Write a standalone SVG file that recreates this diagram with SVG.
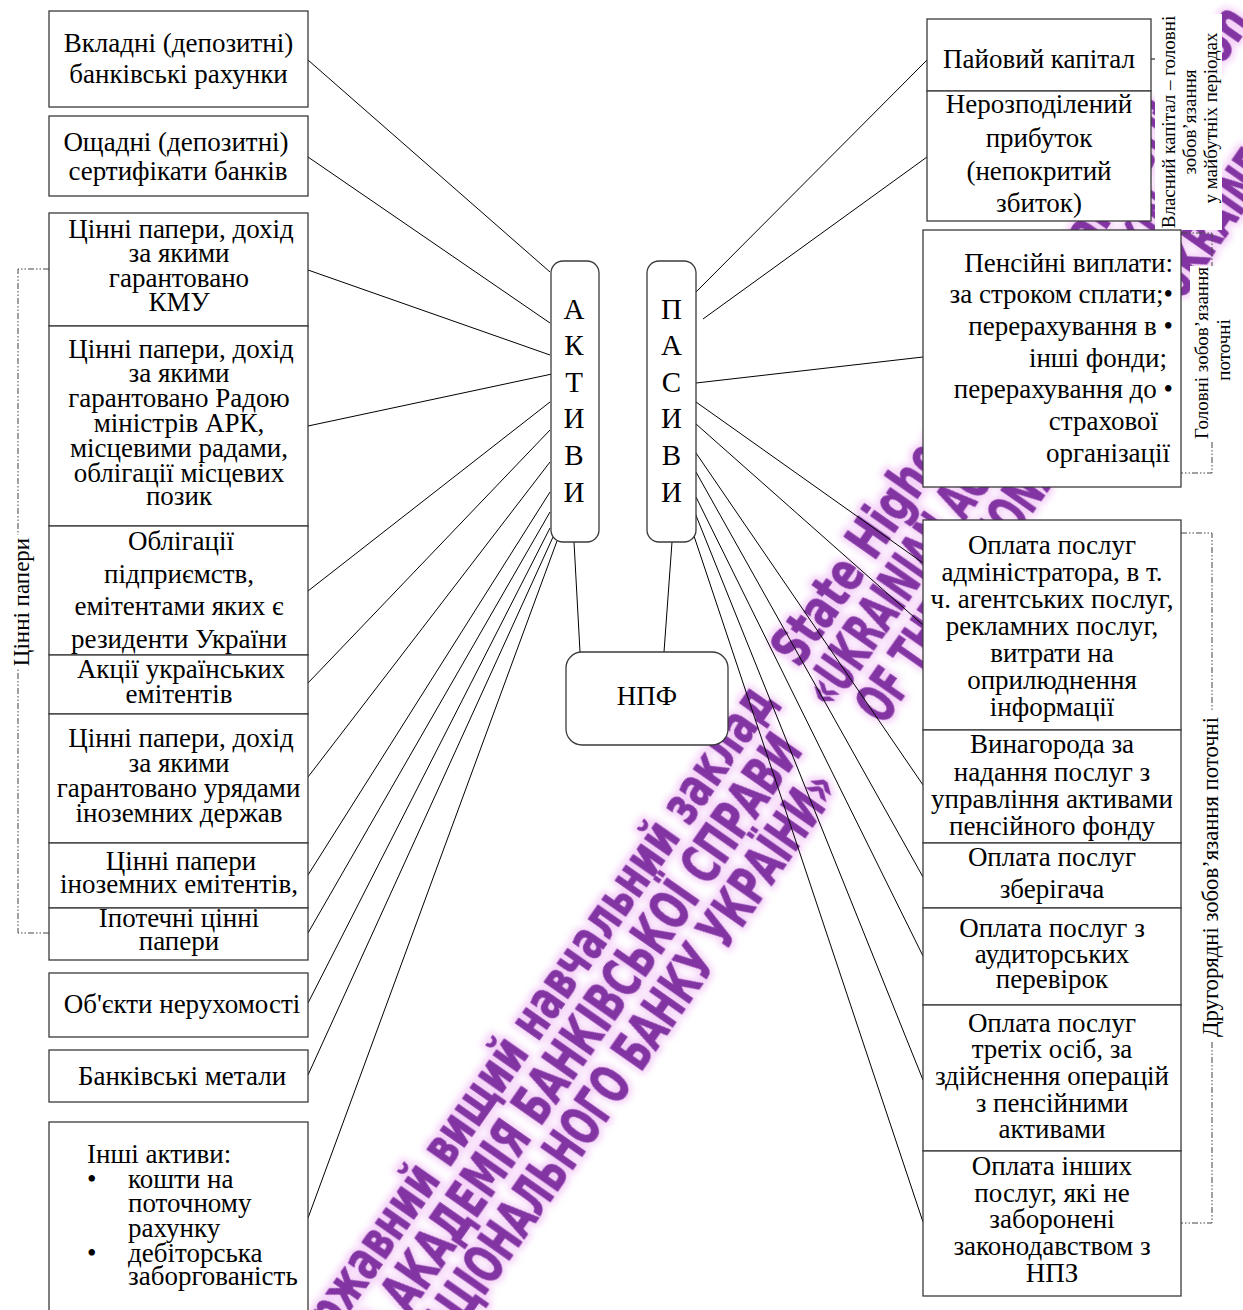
<svg xmlns="http://www.w3.org/2000/svg" width="1243" height="1310" viewBox="0 0 1243 1310">
  <style>
    .box { fill: #ffffff; stroke: #3a3a3a; stroke-width: 1.3; }
    .t { font-family: 'Liberation Serif', 'Times New Roman', serif; font-size: 27px; fill: #000; text-anchor: middle; }
    .l { text-anchor: start; }
    .r { text-anchor: end; }
    .v { font-family: 'Liberation Serif', 'Times New Roman', serif; font-size: 19px; fill: #000; text-anchor: middle; }
    .big { font-size: 29px; }
    .conn line { stroke: #000; stroke-width: 1; }
    .brk { fill: none; stroke: #444; stroke-width: 1; stroke-dasharray: 6 2 1.5 2 1.5 2; }
    .wm { font-family: 'DejaVu Sans Condensed', 'DejaVu Sans', sans-serif; font-weight: bold; font-stretch: condensed; font-size: 54px; }
    .wm-halo { fill: #f3c8f7; stroke: #f3c8f7; stroke-width: 9; stroke-linejoin: round; opacity: 0.8; }
    .wm-ink { fill: #8234a2; stroke: #8234a2; stroke-width: 0.8; stroke-linejoin: round; }
  </style>
  <defs>
    <filter id="halo" x="-10%" y="-50%" width="120%" height="200%"><feGaussianBlur stdDeviation="3"/></filter>
    <filter id="soft" x="-10%" y="-50%" width="120%" height="200%"><feGaussianBlur stdDeviation="0.6"/></filter>
  </defs>

  <rect width="1243" height="1310" fill="#ffffff"/>

  <!-- background stamp, rotated text -->
  <g id="stamp" class="wm" transform="rotate(-55)">
    <g class="wm-halo" filter="url(#halo)">
      <text x="-959" y="1038" textLength="830" lengthAdjust="spacingAndGlyphs">Державний вищий навчальний заклад</text>
      <text x="-90" y="1038" textLength="790" lengthAdjust="spacingAndGlyphs">State Higher Educational Institution</text>
      <text x="-1142" y="1089" textLength="988" lengthAdjust="spacingAndGlyphs">«УКРАЇНСЬКА АКАДЕМІЯ БАНКІВСЬКОЇ СПРАВИ</text>
      <text x="-105" y="1089" textLength="638" lengthAdjust="spacingAndGlyphs">«UKRAINIAN ACADEMY OF BANKING</text>
      <text x="-873" y="1140" textLength="709" lengthAdjust="spacingAndGlyphs">НАЦІОНАЛЬНОГО БАНКУ УКРАЇНИ»</text>
      <text x="-88" y="1140" textLength="704" lengthAdjust="spacingAndGlyphs">OF THE NATIONAL BANK OF UKRAINE»</text>
    </g>
    <g class="wm-ink" filter="url(#soft)">
      <text x="-959" y="1038" textLength="830" lengthAdjust="spacingAndGlyphs">Державний вищий навчальний заклад</text>
      <text x="-90" y="1038" textLength="790" lengthAdjust="spacingAndGlyphs">State Higher Educational Institution</text>
      <text x="-1142" y="1089" textLength="988" lengthAdjust="spacingAndGlyphs">«УКРАЇНСЬКА АКАДЕМІЯ БАНКІВСЬКОЇ СПРАВИ</text>
      <text x="-105" y="1089" textLength="638" lengthAdjust="spacingAndGlyphs">«UKRAINIAN ACADEMY OF BANKING</text>
      <text x="-873" y="1140" textLength="709" lengthAdjust="spacingAndGlyphs">НАЦІОНАЛЬНОГО БАНКУ УКРАЇНИ»</text>
      <text x="-88" y="1140" textLength="704" lengthAdjust="spacingAndGlyphs">OF THE NATIONAL BANK OF UKRAINE»</text>
    </g>
  </g>

  <!-- connectors -->
  <g id="connectors" class="conn">
    <!-- assets to АКТИВИ -->
    <line x1="308" y1="60" x2="550" y2="272"/>
    <line x1="308" y1="157" x2="550" y2="323"/>
    <line x1="308" y1="270" x2="550" y2="355"/>
    <line x1="308" y1="426" x2="552" y2="374"/>
    <line x1="308" y1="591" x2="550" y2="402"/>
    <line x1="308" y1="683" x2="550" y2="430"/>
    <line x1="308" y1="777" x2="550" y2="462"/>
    <line x1="308" y1="875" x2="550" y2="492"/>
    <line x1="308" y1="933" x2="550" y2="512"/>
    <line x1="308" y1="1003" x2="550" y2="528"/>
    <line x1="308" y1="1075" x2="553" y2="537"/>
    <line x1="308" y1="1218" x2="557" y2="541"/>
    <!-- liabilities to ПАСИВИ -->
    <line x1="927" y1="60" x2="696" y2="292"/>
    <line x1="927" y1="157" x2="703" y2="319"/>
    <line x1="923" y1="357" x2="696" y2="383"/>
    <line x1="923" y1="563" x2="696" y2="402"/>
    <line x1="923" y1="625" x2="696" y2="424"/>
    <line x1="923" y1="785" x2="696" y2="453"/>
    <line x1="923" y1="877" x2="696" y2="472"/>
    <line x1="923" y1="956" x2="696" y2="497"/>
    <line x1="923" y1="1080" x2="695" y2="513"/>
    <line x1="923" y1="1222" x2="694" y2="536"/>
    <!-- columns to НПФ -->
    <line x1="574" y1="542" x2="580" y2="652"/>
    <line x1="672" y1="542" x2="664" y2="652"/>
    <!-- short tick from the equity box -->
    <line x1="1151" y1="59" x2="1157" y2="59" stroke="#444"/>
  </g>

  <!-- group brackets -->
  <g id="brackets">
    <path class="brk" d="M49,269 H18 V933 H49"/>
    <path class="brk" d="M1181,233 H1212 V473 H1181"/>
    <path class="brk" d="M1181,533 H1212 V1223 H1181"/>
  </g>

  <!-- left column: assets -->
  <g id="a1"><rect class="box" x="49" y="11" width="259" height="96"/>
    <text class="t" x="178.5" y="52">Вкладні (депозитні)</text>
    <text class="t" x="178.5" y="83">банківські рахунки</text></g>
  <g id="a2"><rect class="box" x="49" y="116" width="259" height="80"/>
    <text class="t" x="176" y="151">Ощадні (депозитні)</text>
    <text class="t" x="178" y="180">сертифікати банків</text></g>
  <g id="a3"><rect class="box" x="49" y="213" width="259" height="113"/>
    <text class="t" x="181" y="238">Цінні папери, дохід</text>
    <text class="t" x="179" y="262">за якими</text>
    <text class="t" x="179" y="287">гарантовано</text>
    <text class="t" x="179" y="311">КМУ</text></g>
  <g id="a4"><rect class="box" x="49" y="326" width="259" height="200"/>
    <text class="t" x="181" y="358">Цінні папери, дохід</text>
    <text class="t" x="179" y="382">за якими</text>
    <text class="t" x="179" y="407">гарантовано Радою</text>
    <text class="t" x="179" y="432">міністрів АРК,</text>
    <text class="t" x="179" y="457">місцевими радами,</text>
    <text class="t" x="179" y="482">облігації місцевих</text>
    <text class="t" x="179" y="505">позик</text></g>
  <g id="a5"><rect class="box" x="49" y="526" width="259" height="129"/>
    <text class="t" x="181" y="550">Облігації</text>
    <text class="t" x="179" y="583">підприємств,</text>
    <text class="t" x="179" y="615">емітентами яких є</text>
    <text class="t" x="179" y="648">резиденти України</text></g>
  <g id="a6"><rect class="box" x="49" y="655" width="259" height="59"/>
    <text class="t" x="181" y="678">Акції українських</text>
    <text class="t" x="179" y="703">емітентів</text></g>
  <g id="a7"><rect class="box" x="49" y="714" width="259" height="129"/>
    <text class="t" x="181" y="747">Цінні папери, дохід</text>
    <text class="t" x="179" y="772">за якими</text>
    <text class="t" x="178.5" y="797">гарантовано урядами</text>
    <text class="t" x="179" y="822">іноземних держав</text></g>
  <g id="a8"><rect class="box" x="49" y="843" width="259" height="65"/>
    <text class="t" x="181" y="870">Цінні папери</text>
    <text class="t" x="179" y="893">іноземних емітентів,</text></g>
  <g id="a9"><rect class="box" x="49" y="908" width="259" height="52"/>
    <text class="t" x="179" y="927">Іпотечні цінні</text>
    <text class="t" x="179" y="950">папери</text></g>
  <g id="a10"><rect class="box" x="49" y="973" width="259" height="64"/>
    <text class="t" x="182" y="1013">Об'єкти нерухомості</text></g>
  <g id="a11"><rect class="box" x="49" y="1050" width="259" height="52"/>
    <text class="t" x="182" y="1085">Банківські метали</text></g>
  <g id="a12"><rect class="box" x="49" y="1122" width="259" height="200"/>
    <text class="t l" x="87" y="1163">Інші активи:</text>
    <text class="t l" x="87" y="1188">•</text>
    <text class="t l" x="128" y="1188">кошти на</text>
    <text class="t l" x="128" y="1212">поточному</text>
    <text class="t l" x="128" y="1237">рахунку</text>
    <text class="t l" x="87" y="1262">•</text>
    <text class="t l" x="128" y="1262">дебіторська</text>
    <text class="t l" x="128" y="1285">заборгованість</text></g>

  <!-- bracket label on the left -->
  <g id="lbl-securities">
    <rect x="10" y="535" width="26" height="134" fill="#ffffff"/>
    <text class="v" style="font-size:23px" transform="translate(29,602) rotate(-90)">Цінні папери</text>
  </g>

  <!-- centre -->
  <g id="assets"><rect class="box" x="551" y="261" width="48" height="281" rx="12"/>
    <text class="t big" x="574" y="319">А</text>
    <text class="t big" x="574" y="355">К</text>
    <text class="t big" x="574" y="392">Т</text>
    <text class="t big" x="574" y="428">И</text>
    <text class="t big" x="574" y="465">В</text>
    <text class="t big" x="574" y="502">И</text></g>
  <g id="liabilities"><rect class="box" x="647" y="261" width="49" height="281" rx="12"/>
    <text class="t big" x="671.5" y="319">П</text>
    <text class="t big" x="671.5" y="355">А</text>
    <text class="t big" x="671.5" y="392">С</text>
    <text class="t big" x="671.5" y="428">И</text>
    <text class="t big" x="671.5" y="465">В</text>
    <text class="t big" x="671.5" y="502">И</text></g>
  <g id="fund"><rect class="box" x="566" y="652" width="162" height="93" rx="16"/>
    <text class="t" x="647" y="705">НПФ</text></g>

  <!-- right column: liabilities -->
  <g id="p1"><rect class="box" x="927" y="19" width="224" height="72"/>
    <text class="t" x="1039" y="68">Пайовий капітал</text></g>
  <g id="p2"><rect class="box" x="927" y="91" width="224" height="130"/>
    <text class="t" x="1039" y="113">Нерозподілений</text>
    <text class="t" x="1039" y="147">прибуток</text>
    <text class="t" x="1039" y="180">(непокритий</text>
    <text class="t" x="1039" y="212">збиток)</text></g>
  <g id="lbl-equity">
    <rect x="1155" y="14" width="67" height="216" fill="#ffffff"/>
    <text class="v" transform="translate(1175,122) rotate(-90)">Власний капітал – головні</text>
    <text class="v" transform="translate(1196,122) rotate(-90)">зобов’язання</text>
    <text class="v" transform="translate(1217,118) rotate(-90)">у майбутніх періодах</text>
  </g>

  <g id="p3"><rect class="box" x="923" y="230" width="258" height="257"/>
    <text class="t r" x="1173" y="272">Пенсійні виплати:</text>
    <text class="t r" x="1173" y="303">за строком сплати;•</text>
    <text class="t r" x="1173" y="335">перерахування в •</text>
    <text class="t r" x="1167" y="367">інші фонди;</text>
    <text class="t r" x="1173" y="398">перерахування до •</text>
    <text class="t r" x="1158" y="430">страхової</text>
    <text class="t r" x="1170" y="462">організації</text></g>
  <g id="lbl-current">
    <rect x="1190" y="266" width="45" height="174" fill="#ffffff"/>
    <text class="v" transform="translate(1208,353) rotate(-90)">Головні зобов’язання</text>
    <text class="v" transform="translate(1230,350) rotate(-90)">поточні</text>
  </g>

  <g id="p4"><rect class="box" x="923" y="520" width="258" height="210"/>
    <text class="t" x="1052" y="554">Оплата послуг</text>
    <text class="t" x="1052" y="581">адміністратора, в т.</text>
    <text class="t" x="1052" y="608">ч. агентських послуг,</text>
    <text class="t" x="1052" y="635">рекламних послуг,</text>
    <text class="t" x="1052" y="662">витрати на</text>
    <text class="t" x="1052" y="689">оприлюднення</text>
    <text class="t" x="1052" y="716">інформації</text></g>
  <g id="p5"><rect class="box" x="923" y="730" width="258" height="113"/>
    <text class="t" x="1052" y="753">Винагорода за</text>
    <text class="t" x="1052" y="781">надання послуг з</text>
    <text class="t" x="1052" y="808">управління активами</text>
    <text class="t" x="1052" y="835">пенсійного фонду</text></g>
  <g id="p6"><rect class="box" x="923" y="843" width="258" height="65"/>
    <text class="t" x="1052" y="866">Оплата послуг</text>
    <text class="t" x="1052" y="898">зберігача</text></g>
  <g id="p7"><rect class="box" x="923" y="908" width="258" height="97"/>
    <text class="t" x="1052" y="937">Оплата послуг з</text>
    <text class="t" x="1052" y="963">аудиторських</text>
    <text class="t" x="1052" y="988">перевірок</text></g>
  <g id="p8"><rect class="box" x="923" y="1005" width="258" height="146"/>
    <text class="t" x="1052" y="1032">Оплата послуг</text>
    <text class="t" x="1052" y="1058">третіх осіб, за</text>
    <text class="t" x="1052" y="1085">здійснення операцій</text>
    <text class="t" x="1052" y="1112">з пенсійними</text>
    <text class="t" x="1052" y="1138">активами</text></g>
  <g id="p9"><rect class="box" x="923" y="1151" width="258" height="145"/>
    <text class="t" x="1052" y="1175">Оплата інших</text>
    <text class="t" x="1052" y="1202">послуг, які не</text>
    <text class="t" x="1052" y="1228">заборонені</text>
    <text class="t" x="1052" y="1255">законодавством з</text>
    <text class="t" x="1052" y="1282">НПЗ</text></g>
  <g id="lbl-secondary">
    <rect x="1200" y="712" width="26" height="330" fill="#ffffff"/>
    <text class="v" style="font-size:22.7px" transform="translate(1218,877) rotate(-90)">Другорядні зобов’язання поточні</text>
  </g>
</svg>
